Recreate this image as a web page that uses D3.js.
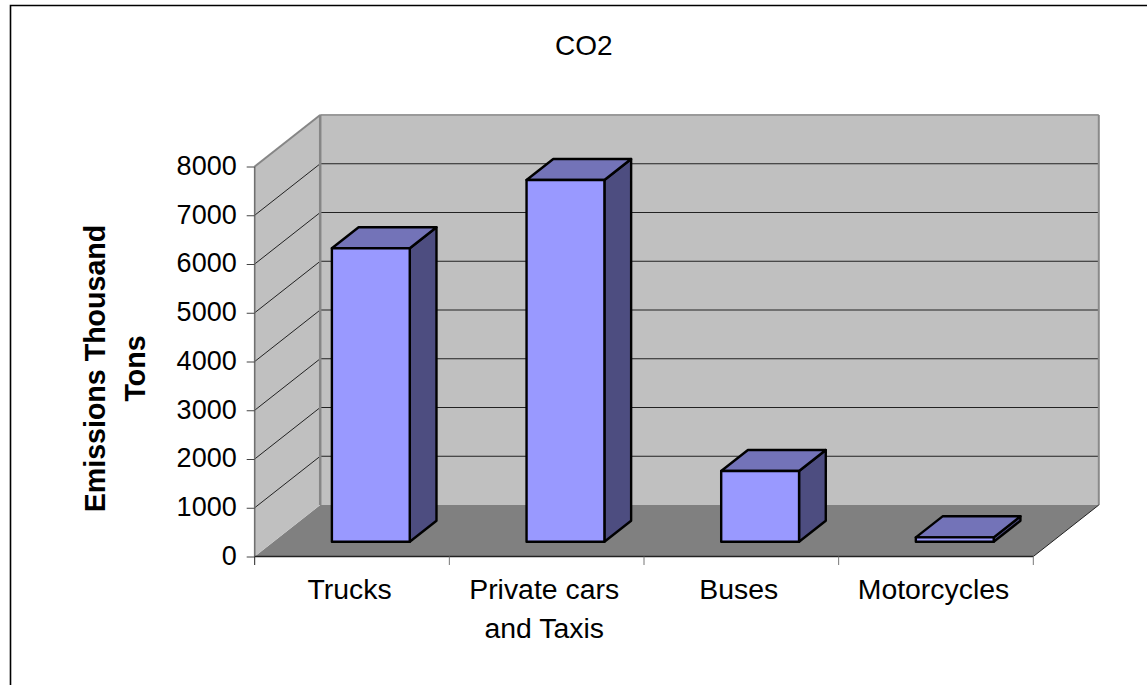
<!DOCTYPE html>
<html><head><meta charset="utf-8">
<script src="https://cdn.jsdelivr.net/npm/d3@7/dist/d3.min.js"></script>
<style>html,body{margin:0;padding:0;background:#fff;overflow:hidden}svg{display:block}text{font-family:"Liberation Sans",Arial,sans-serif;fill:#000}</style>
</head><body><svg id="c" width="1147" height="685"></svg>
<script>
const categories = ["Trucks", "Private cars and Taxis", "Buses", "Motorcycles"];
const categoryLines = [["Trucks"], ["Private cars", "and Taxis"], ["Buses"], ["Motorcycles"]];
const co2Values = [6020, 7420, 1450, 90];
const yTicks = [0, 1000, 2000, 3000, 4000, 5000, 6000, 7000, 8000];
const chartTitle = "CO2";
const yTitleLines = ["Emissions Thousand", "Tons"];

const svg = d3.select("#c");
const depth = {dx: 65.5, dy: -51.5};
const x = d3.scaleBand().domain(categories).range([254.7, 1033.3]);
const y = d3.scaleLinear().domain([0, 8000]).range([556.5, 166.5]);
const pad = 0.30;
const zFront = 0.287, zBack = 0.695;
const bw = x.bandwidth() * (1 - 2 * pad);

const P = (px, val, z) => [px + depth.dx * z, y(val) + depth.dy * z];
const path = pts => "M" + pts.map(p => p.join(",")).join("L") + "Z";
const edge = (pts, col, w) => svg.append("path").attr("fill","none").attr("stroke",col).attr("stroke-width",w).attr("d", d3.line()(pts));

// outer frame: runs off the right and bottom of the picture
edge([[1147,5.5],[10.5,5.5],[10.5,685]], "#000", 1.6);

const x0 = x.range()[0], x1 = x.range()[1];
const vMax = y.domain()[1];

svg.append("path").attr("d", path([P(x0,0,0),P(x1,0,0),P(x1,0,1),P(x0,0,1)])).attr("fill", "#808080");
svg.append("path").attr("d", path([P(x0,0,1),P(x1,0,1),P(x1,vMax,1),P(x0,vMax,1)])).attr("fill", "#c0c0c0");
svg.append("path").attr("d", path([P(x0,0,0),P(x0,0,1),P(x0,vMax,1),P(x0,vMax,0)])).attr("fill", "#c0c0c0");

yTicks.filter(t => t > 0 && t < vMax).forEach(t => {
  edge([P(x0,t,0),P(x0,t,1),P(x1,t,1)], "#222", 1);
});

edge([P(x0,vMax,0),P(x0,vMax,1)], "#868686", 2);
edge([P(x0,vMax,1),P(x1,vMax,1)], "#9a9a9a", 2);
edge([P(x1,vMax,1),P(x1,0,1)], "#8a8a8a", 2);
edge([P(x0,vMax,1),P(x0,0,1)], "#868686", 2.5);
edge([P(x1,0,0),P(x1,0,1)], "#222", 1);

categories.forEach((c, i) => {
  const v = co2Values[i];
  const l = x(c) + x.bandwidth() * pad, r = l + bw;
  const g = svg.append("g").attr("stroke","#000").attr("stroke-width",2.4).attr("stroke-linejoin","round");
  g.append("path").attr("fill","#4d4d80").attr("d", path([P(r,0,zFront),P(r,0,zBack),P(r,v,zBack),P(r,v,zFront)]));
  g.append("path").attr("fill","#7373b8").attr("d", path([P(l,v,zFront),P(r,v,zFront),P(r,v,zBack),P(l,v,zBack)]));
  g.append("path").attr("fill","#9999ff").attr("d", path([P(l,0,zFront),P(r,0,zFront),P(r,v,zFront),P(l,v,zFront)]));
});

const yAxisG = svg.append("g").attr("transform", `translate(${x0},0)`)
  .call(d3.axisLeft(y).tickValues(yTicks).tickSize(8).tickPadding(10).tickFormat(d3.format("d")));
yAxisG.select(".domain").attr("stroke","#707070").attr("stroke-width",1.6).attr("d", `M0,${y(vMax)}V${y(0)}`);
yAxisG.selectAll(".tick line").attr("stroke","#444").attr("stroke-width",1);
yAxisG.selectAll("text").attr("dy","0.29em").style("font-size","27px").style("font-family",'"Liberation Sans"');

const xAxisG = svg.append("g").attr("transform", `translate(0,${y(0)})`)
  .call(d3.axisBottom(x).tickSize(0).tickFormat(""));
xAxisG.select(".domain").attr("stroke","#222").attr("stroke-width",1.4).attr("d", `M${x0},0H${x1}`);
d3.range(categories.length + 1).forEach(i => {
  const tx = x0 + i * x.step();
  xAxisG.append("line").attr("x1",tx).attr("x2",tx).attr("y1",0).attr("y2",8.5)
    .attr("stroke", i === 0 ? "#222" : "#777").attr("stroke-width",1);
});
categories.forEach((c,i) => {
  categoryLines[i].forEach((ln,j) => {
    svg.append("text").attr("x", x(c) + x.bandwidth()/2 - 2.5).attr("y", 599 + j*39)
      .attr("text-anchor","middle").style("font-size","28.4px").text(ln);
  });
});

svg.append("text").attr("x",583.7).attr("y",55).attr("text-anchor","middle").style("font-size","28px").text(chartTitle);
yTitleLines.forEach((ln,j) => {
  svg.append("text").attr("transform",`translate(${105+j*39.5},368.5) rotate(-90)`).attr("text-anchor","middle")
    .style("font-size","28.6px").style("font-weight","bold").text(ln);
});
</script></body></html>
